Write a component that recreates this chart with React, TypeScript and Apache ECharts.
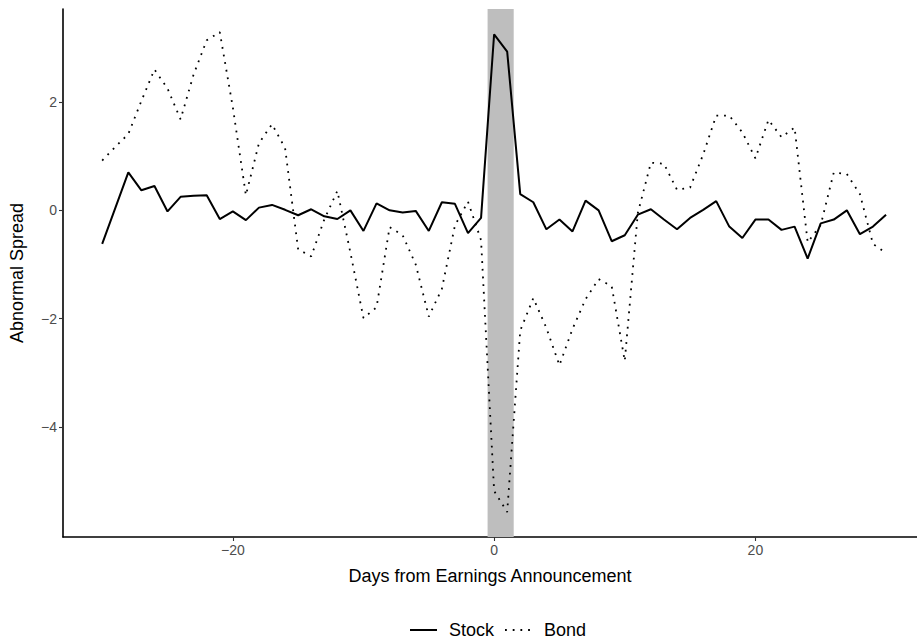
import React, { useEffect, useRef } from "react";
import * as echarts from "echarts";

const days = [
  -30, -29, -28, -27, -26, -25, -24, -23, -22, -21, -20, -19, -18, -17, -16, -15,
  -14, -13, -12, -11, -10, -9, -8, -7, -6, -5, -4, -3, -2, -1, 0, 1, 2, 3, 4, 5,
  6, 7, 8, 9, 10, 11, 12, 13, 14, 15, 16, 17, 18, 19, 20, 21, 22, 23, 24, 25, 26,
  27, 28, 29, 30,
];

const stock = [
  -0.62, 0.04, 0.7, 0.37, 0.45, -0.02, 0.25, 0.27, 0.28, -0.16, -0.02, -0.18, 0.05,
  0.1, 0.01, -0.09, 0.02, -0.11, -0.16, 0.0, -0.38, 0.13, 0.0, -0.04, -0.01, -0.38,
  0.15, 0.12, -0.42, -0.14, 3.25, 2.93, 0.3, 0.15, -0.35, -0.17, -0.39, 0.18, 0.0,
  -0.57, -0.46, -0.08, 0.02, -0.17, -0.35, -0.14, 0.01, 0.17, -0.3, -0.51, -0.17,
  -0.17, -0.36, -0.3, -0.89, -0.24, -0.17, 0.0, -0.44, -0.3, -0.08,
];

const bond = [
  0.92, 1.17, 1.41, 2.02, 2.6, 2.25, 1.68, 2.51, 3.14, 3.29, 1.9, 0.28, 1.24, 1.59,
  1.15, -0.72, -0.85, -0.17, 0.36, -0.78, -1.99, -1.79, -0.31, -0.46, -1.0, -1.96,
  -1.45, -0.28, 0.16, -0.55, -5.18, -5.57, -2.22, -1.62, -2.17, -2.86, -2.19, -1.64,
  -1.27, -1.4, -2.78, -0.05, 0.88, 0.86, 0.38, 0.42, 1.03, 1.75, 1.75, 1.44, 0.96,
  1.67, 1.35, 1.53, -0.59, -0.27, 0.7, 0.67, 0.3, -0.62, -0.79,
];

const xTicks = [-20, 0, 20];
const yTicks = [-4, -2, 0, 2];
const shadeRange = [-0.5, 1.5];
const seriesNames = ["Stock", "Bond"];

export default function App() {
  const ref = useRef<HTMLDivElement>(null);

  useEffect(() => {
    const chart = echarts.init(ref.current!, null, { renderer: "svg" });
    const font = "'Liberation Sans', Arial, Helvetica, sans-serif";
    const fmt = (v: number) => String(v).replace("-", "\u2212");

    chart.setOption({
      animation: false,
      backgroundColor: "#ffffff",
      grid: { left: 62, top: 9, right: 0, height: 528, containLabel: false },
      xAxis: {
        type: "value",
        min: -33,
        max: 32.37,
        name: "Days from Earnings Announcement",
        nameLocation: "middle",
        nameGap: 30,
        nameTextStyle: { fontFamily: font, fontSize: 18, color: "#000000" },
        axisLine: { onZero: false, lineStyle: { color: "#000000", width: 1.6 } },
        axisTick: {
          show: true,
          length: 4,
          customValues: xTicks,
          lineStyle: { color: "#333333", width: 1.1 },
        },
        axisLabel: {
          customValues: xTicks,
          formatter: fmt,
          color: "#4d4d4d",
          fontSize: 14,
          fontFamily: font,
          margin: 6,
        },
        splitLine: { show: false },
      },
      yAxis: {
        type: "value",
        min: -6.03,
        max: 3.717,
        name: "Abnormal Spread",
        nameLocation: "middle",
        nameGap: 37,
        nameRotate: 90,
        nameTextStyle: { fontFamily: font, fontSize: 18, color: "#000000" },
        axisLine: { show: true, onZero: false, lineStyle: { color: "#000000", width: 1.6 } },
        axisTick: {
          show: true,
          length: 4,
          customValues: yTicks,
          lineStyle: { color: "#333333", width: 1.1 },
        },
        axisLabel: {
          customValues: yTicks,
          formatter: fmt,
          color: "#4d4d4d",
          fontSize: 14,
          fontFamily: font,
          margin: 6,
        },
        splitLine: { show: false },
      },
      legend: {
        data: seriesNames,
        left: 409,
        top: 621,
        padding: 0,
        itemWidth: 27,
        itemHeight: 14,
        itemGap: 10,
        itemStyle: { opacity: 0 },
        textStyle: {
          fontFamily: font,
          fontSize: 18,
          color: "#000000",
          padding: [0, 0, 0, 7],
        },
      },
      series: [
        {
          name: "shade",
          type: "line",
          data: [],
          silent: true,
          markArea: {
            silent: true,
            itemStyle: { color: "#bebebe", opacity: 1 },
            data: [[{ xAxis: shadeRange[0] }, { xAxis: shadeRange[1] }]],
          },
        },
        {
          name: seriesNames[0],
          type: "line",
          data: days.map((d, i) => [d, stock[i]]),
          symbol: "none",
          showSymbol: false,
          lineStyle: { color: "#000000", width: 2 },
          itemStyle: { color: "#000000" },
        },
        {
          name: seriesNames[1],
          type: "line",
          data: days.map((d, i) => [d, bond[i]]),
          symbol: "none",
          showSymbol: false,
          lineStyle: { color: "#000000", width: 1.8, type: [1.8, 5.9], cap: "butt" },
          itemStyle: { color: "#000000" },
        },
      ],
    });

    return () => chart.dispose();
  }, []);

  return (
    <div
      ref={ref}
      style={{ position: "absolute", left: 0, top: 0, width: 917, height: 644 }}
    />
  );
}
